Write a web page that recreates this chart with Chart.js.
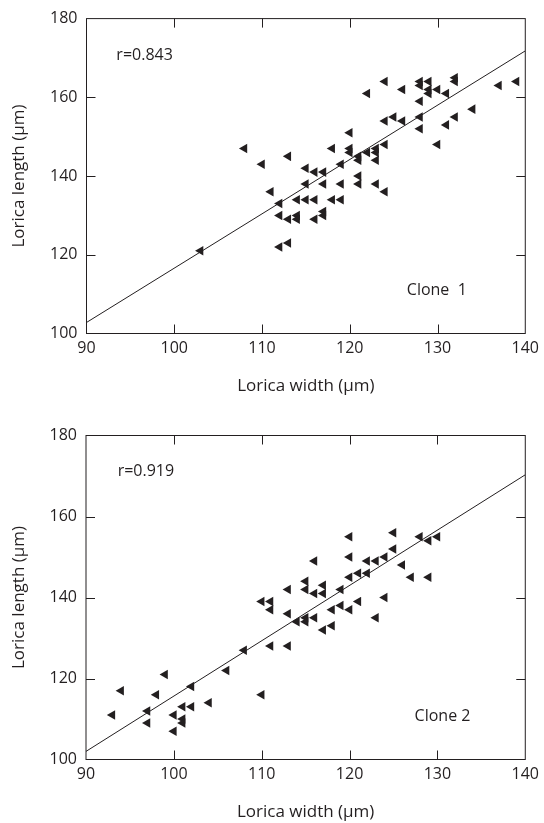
<!DOCTYPE html>
<html>
<head>
<meta charset="utf-8">
<script src="https://cdn.jsdelivr.net/npm/chart.js@4/dist/chart.umd.min.js"></script>
<style>
  html, body { margin: 0; padding: 0; background: #fff; }
  #wrap { position: relative; width: 544px; height: 823px; }
  canvas { position: absolute; left: 0; }
  #clone1Chart { top: 0; }
  #clone2Chart { top: 412px; }
</style>
</head>
<body>
<div id="wrap">
  <canvas id="clone1Chart" width="544" height="412"></canvas>
  <canvas id="clone2Chart" width="544" height="411"></canvas>
</div>
<script>
// axis ticks
const xTicks = [90, 100, 110, 120, 130, 140];
const yTicks = [100, 120, 140, 160, 180];

// clone 1: lorica width / length (µm)
const clone1Width = [103, 108, 110, 111, 112, 112, 112, 113, 113, 113, 114, 114, 114, 115, 116, 118, 119,
  115, 116, 117, 115, 117, 119, 116, 117, 117, 118, 119, 120, 120, 120, 121, 121, 121, 121,
  122, 122, 123, 123, 123, 123, 124, 124, 124, 124, 125, 126, 126, 128, 128, 128, 128, 128,
  129, 129, 129, 130, 130, 131, 131, 132, 132, 132, 134, 137, 139];
const clone1Length = [121, 147, 143, 136, 133, 130, 122, 123, 145, 129, 130, 129, 134, 134, 134, 134, 134,
  142, 141, 141, 138, 138, 138, 129, 131, 130, 147, 143, 151, 147, 146, 145, 144, 140, 138,
  161, 146, 147, 146, 144, 138, 164, 154, 148, 136, 155, 162, 154, 164, 163, 159, 155, 152,
  164, 162, 161, 162, 148, 161, 153, 165, 164, 155, 157, 163, 164];
const clone1FitX = [90, 140];
const clone1FitY = [102.8, 171.8];

// clone 2
const clone2Width = [93, 94, 97, 97, 98, 99, 100, 100, 101, 101, 101, 102, 102, 104, 106, 108, 110, 110,
  111, 111, 111, 113, 113, 113, 114, 115, 115, 115, 115, 116, 116, 116, 117, 117, 117, 118, 118,
  119, 119, 120, 120, 120, 120, 121, 121, 122, 122, 123, 123, 124, 124, 125, 125, 126, 127,
  128, 129, 129, 130];
const clone2Length = [111, 117, 112, 109, 116, 121, 111, 107, 113, 110, 109, 113, 118, 114, 122, 127, 139, 116,
  139, 137, 128, 142, 136, 128, 134, 144, 142, 135, 134, 149, 141, 135, 143, 141, 132, 137, 133,
  142, 138, 155, 150, 145, 137, 146, 139, 149, 146, 149, 135, 150, 140, 156, 152, 148, 145,
  155, 154, 145, 155];
const clone2FitX = [90, 140];
const clone2FitY = [102, 170.3];

const INK = '#231f20';
const FONT = "'Open Sans', 'DejaVu Sans', sans-serif";

function toPoints(xs, ys) {
  return xs.map((x, i) => ({ x, y: ys[i] }));
}

// frame round the plot plus short inward ticks on all four sides
const framePlugin = {
  id: 'frame',
  afterDatasetsDraw(chart, args, opts) {
    const { ctx, chartArea: a, scales } = chart;
    const len = 9;
    ctx.save();
    ctx.strokeStyle = INK;
    ctx.lineWidth = 1;
    ctx.strokeRect(a.left, a.top, a.right - a.left, a.bottom - a.top);
    ctx.beginPath();
    xTicks.slice(1, -1).forEach(v => {
      const px = Math.round(scales.x.getPixelForValue(v)) + 0.5;
      ctx.moveTo(px, a.bottom); ctx.lineTo(px, a.bottom - len);
      ctx.moveTo(px, a.top); ctx.lineTo(px, a.top + len);
    });
    yTicks.slice(1, -1).forEach(v => {
      const py = Math.round(scales.y.getPixelForValue(v)) + 0.5;
      ctx.moveTo(a.left, py); ctx.lineTo(a.left + len, py);
      ctx.moveTo(a.right, py); ctx.lineTo(a.right - len, py);
    });
    ctx.stroke();

    ctx.fillStyle = INK;
    ctx.font = `16px ${FONT}`;
    ctx.textBaseline = 'middle';
    ctx.textAlign = 'left';
    (opts.notes || []).forEach(n => {
      ctx.fillText(n.text, scales.x.getPixelForValue(n.x), scales.y.getPixelForValue(n.y));
    });
    ctx.restore();
  }
};

function makeChart(canvasId, pts, fit, notes, box) {
  const ctx = document.getElementById(canvasId);
  return new Chart(ctx, {
    type: 'scatter',
    data: {
      datasets: [
        {
          data: pts,
          pointStyle: 'triangle',
          rotation: -90,
          radius: 5.5,
          backgroundColor: INK,
          borderColor: INK,
          borderWidth: 0
        },
        {
          type: 'line',
          data: fit,
          showLine: true,
          borderColor: INK,
          borderWidth: 1,
          pointRadius: 0,
          fill: false
        }
      ]
    },
    options: {
      responsive: false,
      animation: false,
      events: [],
      layout: { padding: { left: 0, right: box.right, top: box.top, bottom: box.bottom } },
      plugins: { legend: { display: false }, tooltip: { enabled: false }, frame: { notes } },
      scales: {
        x: {
          type: 'linear',
          min: 90,
          max: 140,
          afterBuildTicks: s => { s.ticks = xTicks.map(value => ({ value })); },
          afterFit: s => { s.height = 63.5; },
          grid: { display: false, drawTicks: false },
          border: { display: false },
          ticks: { color: INK, font: { family: FONT, size: 16 }, padding: 5, maxRotation: 0, autoSkip: false },
          title: { display: true, text: 'Lorica width (μm)', color: INK, font: { family: FONT, size: 17 }, padding: { top: 0, bottom: 0.8 } }
        },
        y: {
          type: 'linear',
          min: 100,
          max: 180,
          afterBuildTicks: s => { s.ticks = yTicks.map(value => ({ value })); },
          afterFit: s => { s.width = box.left; },
          grid: { display: false, drawTicks: false },
          border: { display: false },
          ticks: { color: INK, font: { family: FONT, size: 16 }, padding: 9, autoSkip: false },
          title: { display: true, text: 'Lorica length (μm)', color: INK, font: { family: FONT, size: 17 }, padding: { top: 9, bottom: 0 } }
        }
      }
    },
    plugins: [framePlugin]
  });
}

makeChart('clone1Chart',
  toPoints(clone1Width, clone1Length),
  toPoints(clone1FitX, clone1FitY),
  [{ text: 'r=0.843', x: 93.4, y: 170.7 }, { text: 'Clone  1', x: 126.5, y: 111 }],
  { left: 86.5, right: 14, top: 14.5, bottom: 15 });

makeChart('clone2Chart',
  toPoints(clone2Width, clone2Length),
  toPoints(clone2FitX, clone2FitY),
  [{ text: 'r=0.919', x: 93.6, y: 171.1 }, { text: 'Clone 2', x: 127.4, y: 110.6 }],
  { left: 86, right: 13, top: 23.5, bottom: 0 });
</script>
</body>
</html>
